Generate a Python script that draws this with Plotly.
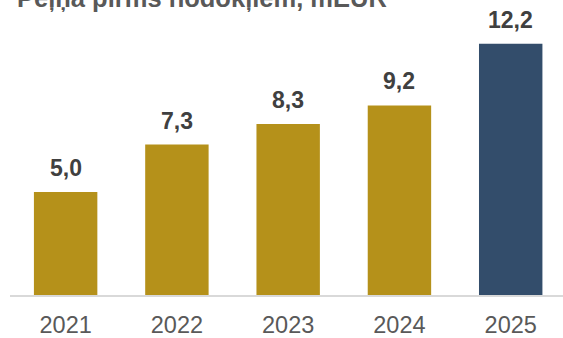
import plotly.graph_objects as go

years = ["2021", "2022", "2023", "2024", "2025"]
values = [5.0, 7.3, 8.3, 9.2, 12.2]
labels = ["5,0", "7,3", "8,3", "9,2", "12,2"]
colors = ["#B5911A", "#B5911A", "#B5911A", "#B5911A", "#334D6B"]
title_text = "Peļņa pirms nodokļiem, mEUR"

FONT = "Arial, 'Liberation Sans', sans-serif"

fig = go.Figure(go.Bar(x=years, y=values, marker=dict(color=colors, line=dict(width=0)), hoverinfo="skip"))

annotations = [
    dict(x=i, y=v, xref="x", yref="y", text=f"<b>{lb}</b>", showarrow=False,
         yanchor="bottom", yshift=9, font=dict(family=FONT, size=23, color="#404040"))
    for i, (v, lb) in enumerate(zip(values, labels))
]
annotations.append(dict(x=0, y=1, xref="paper", yref="paper", xanchor="left", yanchor="bottom",
                        xshift=5, yshift=-14, text=f"<b>{title_text}</b>", showarrow=False,
                        font=dict(family=FONT, size=25.5, color="#595959")))

fig.update_layout(
    width=563, height=338,
    margin=dict(l=10, r=0, t=0, b=41),
    plot_bgcolor="white", paper_bgcolor="white",
    bargap=0.43,
    showlegend=False,
    annotations=annotations,
    xaxis=dict(type="category", range=[-0.5, 4.47], showline=True, linecolor="#D9D9D9", linewidth=1.5,
               ticks="", showgrid=False, ticklabelstandoff=8,
               tickfont=dict(family=FONT, size=23.5, color="#595959")),
    yaxis=dict(range=[0, 14.32], visible=False, showgrid=False, zeroline=False),
)

fig.write_html("out.html")
